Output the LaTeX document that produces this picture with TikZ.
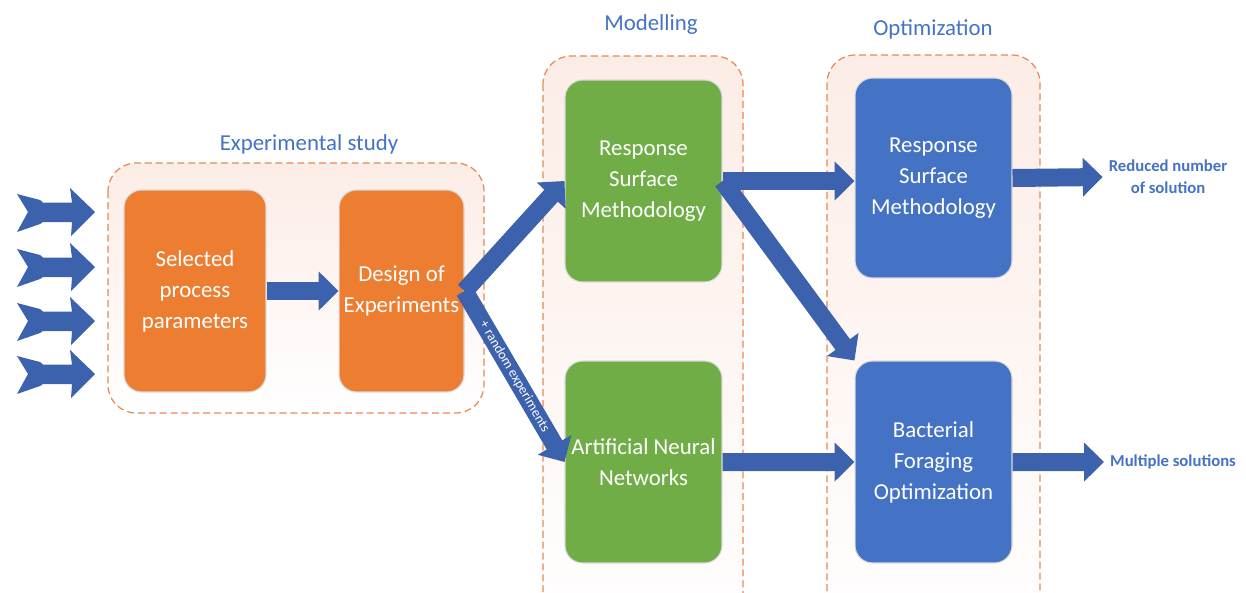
\documentclass[tikz,border=0pt]{standalone}
\usepackage{fontspec}
\setmainfont{Carlito}
\usepackage{xcolor}
\definecolor{ink}{HTML}{4472C4}
\definecolor{cExpFill}{HTML}{ED7D31}
\definecolor{cModFill}{HTML}{70AD47}
\definecolor{cOptFill}{HTML}{4472C4}
\definecolor{cFlow}{HTML}{3D62AD}
\definecolor{cGrpFr}{HTML}{E48A52}
\definecolor{cGrpBg}{HTML}{FCECE6}
\usepackage{tikz}
\usetikzlibrary{arrows.meta,positioning}
\tikzset{
  box/.style={draw=black!15,line width=0.6pt,rounded corners=10pt,text=white,align=center,
    inner sep=0pt,minimum width=3.14cm,minimum height=4.04cm,font=\fontsize{13}{17.6}\selectfont},
  orangebox/.style={box,fill=cExpFill},
  greenbox/.style={box,fill=cModFill},
  bluebox/.style={box,fill=cOptFill},
  grp/.style={draw=cGrpFr,line width=0.7pt,dash pattern=on 4pt off 2.2pt,rounded corners=16pt,
    top color=cGrpBg,bottom color=white},
  grptitle/.style={text=ink,font=\fontsize{13}{16}\selectfont},
  flow/.style={line width=0.36cm,draw=cFlow,-{Triangle[length=0pt 1.1,width=0pt 2.1]}},
  outlbl/.style={text=ink,font=\bfseries\fontsize{9.5}{12.5}\selectfont,align=center},
  inarrow/.pic={\fill[cFlow] (0,0) -- (-24,24) -- (-23,10) -- (-52,10) -- (-55,12) -- (-78,20)
    -- (-67,0) -- (-78,-18) -- (-55,-12) -- (-52,-9.5) -- (-23,-9.5) -- (-25,-24) -- cycle;}}

\begin{document}
\begin{tikzpicture}[x=0.02cm,y=-0.02cm]
  \useasboundingbox (0,0) rectangle (1246,592);
  % groups
  \draw[grp] (108,163) rectangle (484,413);
  \draw[grp] (543,56) rectangle (743,640);
  \draw[grp] (827,55) rectangle (1040,640);
  \node[grptitle] (expt) at (309,144) {Experimental study};
  \node[grptitle] (modt) at (651,25) {Modelling};
  \node[grptitle] (optt) at (933,29) {Optimization};
  % boxes
  \node[orangebox,minimum width=2.84cm] (sel) at (195,291) {Selected\\process\\parameters};
  \node[orangebox,minimum width=2.5cm,right=1.44cm of sel] (doe) {Design of\\Experiments};
  \node[greenbox] (rsm) at (643.5,181) {Response\\Surface\\Methodology};
  \node[greenbox,below=1.56cm of rsm] (ann) {Artificial Neural\\Networks};
  \node[bluebox,minimum height=4cm] (rsmo) at (933.5,178) {Response\\Surface\\Methodology};
  \node[bluebox,below=1.64cm of rsmo] (bfo) {Bacterial\\Foraging\\Optimization};
  \node[outlbl] (red) at (1168,177) {Reduced number\\of solution};
  \node[outlbl] (mult) at (1173,462) {Multiple solutions};
  % inputs
  \foreach \y in {212,267,321,374} \pic at (95,\y) {inarrow};
  % flows
  \draw[flow] (sel) -- (doe);
  \draw[flow] (doe.east) -- (rsm.west);
  \draw[flow] (doe.east) -- node[sloped,text=white,font=\fontsize{7.8}{9}\selectfont]{+ random experiments} (ann.west);
  \draw[flow] (rsm.east) -- (rsm.east -| rsmo.west);
  \draw[flow] (rsm.east) -- (bfo.north west);
  \draw[flow] (ann) -- (bfo);
  \draw[flow] (rsmo.east) -- (red.west);
  \draw[flow] (bfo) -- (mult);
\end{tikzpicture}
\end{document}
